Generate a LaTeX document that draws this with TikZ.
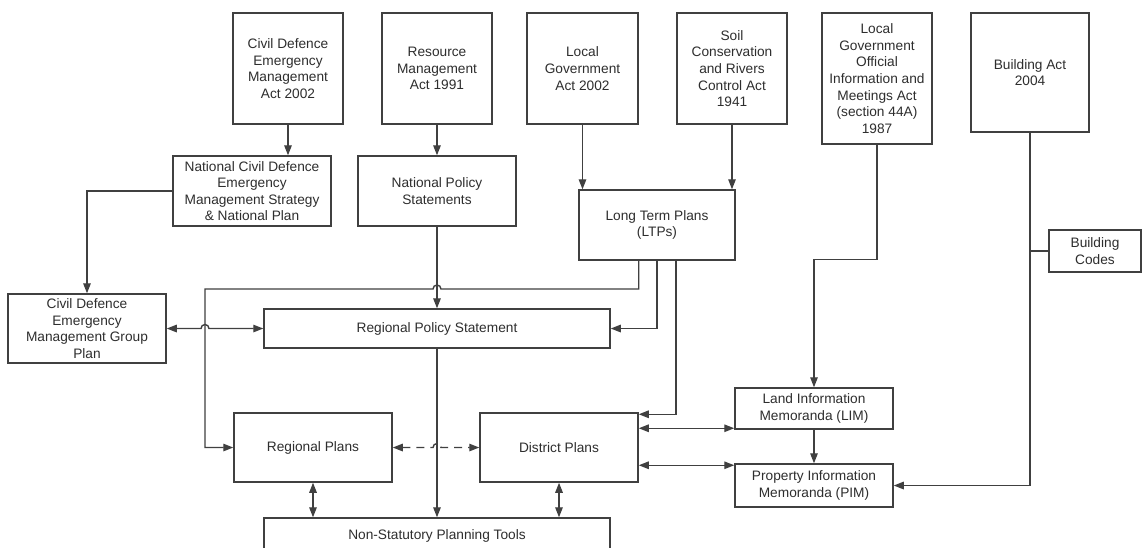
\documentclass[tikz,border=0pt]{standalone}
\usepackage{fontspec}
\setmainfont{Liberation Sans}
\usetikzlibrary{arrows.meta,calc}
\definecolor{ln}{HTML}{404040}
\definecolor{tx}{HTML}{2e2e2e}
\begin{document}
\begin{tikzpicture}[x=1pt,y=-1pt,
 box/.style={draw=ln,line width=1.5pt,fill=white,text=tx,align=center,inner sep=0pt,font=\fontsize{13.7}{16.6}\selectfont},
 conn/.style={draw=ln,line width=1.4pt},
 arr/.style={conn,-{Triangle[length=10pt,width=7.5pt]}},
 barr/.style={conn,{Triangle[length=10pt,width=7.5pt]}-{Triangle[length=10pt,width=7.5pt]}},
 dsh/.style={dash pattern=on 8pt off 6pt}]
\fill[white] (0,0) rectangle (1144,547);
\clip (0,0) rectangle (1144,547);
% top row
\node[box,minimum width=110pt,minimum height=111pt] (cdema) at (288,68.5) {Civil Defence\\Emergency\\Management\\Act 2002};
\node[box,minimum width=110pt,minimum height=111pt] (rma) at (437,68.5) {Resource\\Management\\Act 1991};
\node[box,minimum width=111pt,minimum height=111pt] (lga) at (582.5,68.5) {Local\\Government\\Act 2002};
\node[box,minimum width=110pt,minimum height=111pt] (soil) at (732,68.5) {Soil\\Conservation\\and Rivers\\Control Act\\1941};
\node[box,minimum width=110pt,minimum height=131pt] (lgoima) at (877,78.5) {Local\\Government\\Official\\Information and\\Meetings Act\\(section 44A)\\1987};
\node[box,minimum width=118pt,minimum height=119pt] (bact) at (1030,72.5) {Building Act\\2004};
\node[box,minimum width=92pt,minimum height=42pt] (bcodes) at (1095,251) {Building\\Codes};
% second row
\node[box,minimum width=158pt,minimum height=70pt] (ncdem) at (252,191) {National Civil Defence\\Emergency\\Management Strategy\\\& National Plan};
\node[box,minimum width=158pt,minimum height=70pt] (nps) at (437,191) {National Policy\\Statements};
\node[box,minimum width=156pt,minimum height=70pt] (ltp) at (657,225) {Long Term Plans\\(LTPs)};
% middle
\node[box,minimum width=158pt,minimum height=69pt] (gp) at (87,328.5) {Civil Defence\\Emergency\\Management Group\\Plan};
\node[box,minimum width=346pt,minimum height=39pt] (rps) at (437,328.5) {Regional Policy Statement};
\node[box,minimum width=158pt,minimum height=69pt] (rp) at (313,447.5) {Regional Plans};
\node[box,minimum width=158pt,minimum height=69pt] (dp) at (559,447.5) {District Plans};
\node[box,minimum width=346pt,minimum height=36pt] (nst) at (437,536) {Non-Statutory Planning Tools};
\node[box,minimum width=158pt,minimum height=41pt] (lim) at (814,408.5) {Land Information\\Memoranda (LIM)};
\node[box,minimum width=158pt,minimum height=43pt] (pim) at (814,485.5) {Property Information\\Memoranda (PIM)};
% helper coordinates
\coordinate (jt) at (205,289);
\coordinate (lw) at ($(lim.south west)+(0,-1.5)$);
\coordinate (pw) at ($(pim.north west)+(0,2)$);
% connectors
\draw[arr] (cdema.south) -- (cdema.south |- ncdem.north);
\draw[arr] (rma.south) -- (nps.north);
\draw[arr] (lga.south) -- (lga.south |- ltp.north);
\draw[arr] (soil.south) -- (soil.south |- ltp.north);
\draw[arr] (ncdem.west) -| (gp.north);
\draw[arr] (nps.south) -- (rps.north);
\draw[arr] (ltp.south -| dp.east) -- (dp.east |- jt) -- ($(rps.north |- jt)+(4,0)$) arc[start angle=0,end angle=-180,radius=4] -- (jt) |- (rp.west);
\draw[arr] (ltp.south) |- (rps.east);
\draw[arr] ($(ltp.south)+(19,0)$) |- ($(dp.north east)+(0,2)$);
\draw[barr] (gp.east) -- ($(jt |- gp.east)+(-4,0)$) arc[start angle=180,end angle=360,radius=4] -- (rps.west);
\draw[barr,dsh] (rp.east) -- ($(rps.south |- rp.east)+(-4,0)$) arc[start angle=180,end angle=360,radius=4] -- (dp.west);
\draw[arr] (rps.south) -- (nst.north);
\draw[barr] (rp.south) -- (rp.south |- nst.north);
\draw[barr] (dp.south) -- (dp.south |- nst.north);
\draw[barr] (dp.east |- lw) -- (lw);
\draw[barr] (dp.east |- pw) -- (pw);
\draw[arr] (lgoima.south) -- ($(lgoima.south)+(0,115)$) -| (lim.north);
\draw[arr] (lim.south) -- (pim.north);
\draw[arr] (bact.south) |- (pim.east);
\draw[conn] (bcodes.west) -- (bcodes.west -| bact.south);
\end{tikzpicture}
\end{document}
